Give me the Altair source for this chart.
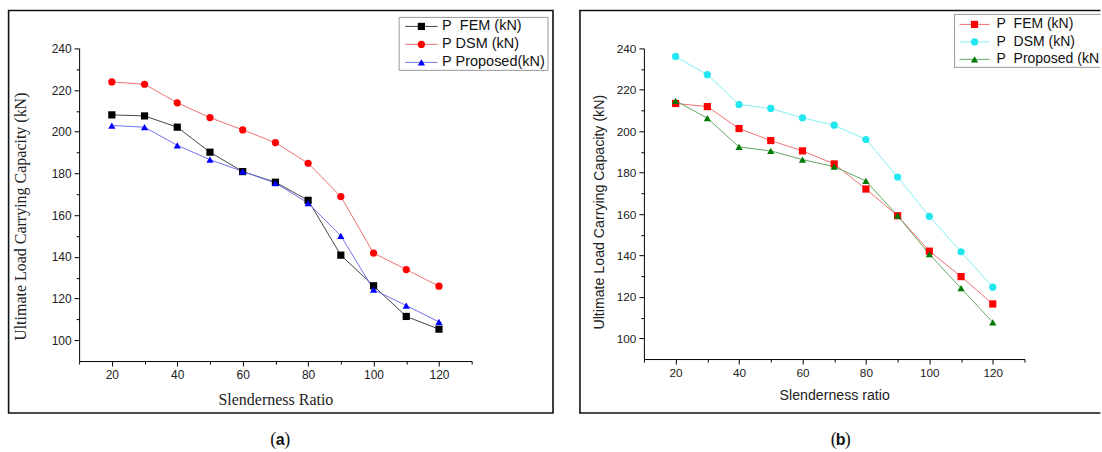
import altair as alt
import pandas as pd

# ---------------- data ----------------
slenderness = [20, 30, 40, 50, 60, 70, 80, 90, 100, 110, 120]

a_fem = [208.1, 207.6, 202.2, 190.2, 180.9, 175.8, 167.1, 140.8, 126.1, 111.4, 105.3]
a_dsm = [223.9, 222.8, 213.9, 206.8, 200.9, 194.8, 184.9, 168.9, 141.8, 133.9, 125.9]
a_prop = [203.0, 202.2, 193.5, 186.6, 181.0, 175.4, 165.8, 150.1, 124.3, 116.6, 108.8]

b_fem = [213.4, 211.9, 201.3, 195.5, 190.5, 184.2, 172.1, 159.2, 142.1, 129.8, 116.6]
b_dsm = [236.1, 227.3, 212.9, 211.0, 206.5, 202.9, 196.0, 177.9, 158.9, 141.8, 124.7]
b_prop = [214.7, 206.3, 192.4, 190.5, 186.3, 182.9, 176.0, 159.2, 140.6, 124.2, 107.7]

a_names = ["P\u00a0 FEM (kN)", "P DSM (kN)", "P Proposed(kN)"]
b_names = ["P\u00a0 FEM (kN)", "P\u00a0 DSM (kN)", "P\u00a0 Proposed (kN)"]

a_marker_colors = ["#000000", "#ff0000", "#0000ff"]
a_line_colors = ["#444444", "#f07070", "#7070f0"]
b_marker_colors = ["#ff0000", "#22e6f0", "#007a00"]
b_line_colors = ["#f07070", "#80f0f6", "#60a860"]
shapes = ["square", "circle", "triangle-up"]

x_major = [20, 40, 60, 80, 100, 120]
x_minor = [10, 30, 50, 70, 90, 110, 130]
y_major = [100, 120, 140, 160, 180, 200, 220, 240]
y_minor = [110, 130, 150, 170, 190, 210, 230]

SANS = "Liberation Sans"
SERIF = "Liberation Serif"


def long_df(names, series):
    rows = []
    for name, vals in zip(names, series):
        for xv, yv in zip(slenderness, vals):
            rows.append({"x": xv, "v": yv, "series": name})
    return pd.DataFrame(rows)


def hrule(x1, x2, y, color, width):
    return alt.Chart(pd.DataFrame({"k": [0]})).mark_rule(
        stroke=color, strokeWidth=width).encode(
        x=alt.value(x1), x2=alt.value(x2), y=alt.value(y))


def vrule(x, y1, y2, color, width):
    return alt.Chart(pd.DataFrame({"k": [0]})).mark_rule(
        stroke=color, strokeWidth=width).encode(
        x=alt.value(x), y=alt.value(y1), y2=alt.value(y2))


def box(x1, x2, y1, y2, color, width, fill, open_right):
    one = pd.DataFrame({"k": [0]})
    if not open_right:
        return [alt.Chart(one).mark_rect(
            fill=fill, stroke=color, strokeWidth=width).encode(
            x=alt.value(x1), x2=alt.value(x2), y=alt.value(y1), y2=alt.value(y2))]
    parts = []
    parts.append(alt.Chart(one).mark_rect(fill=fill, strokeWidth=0).encode(
        x=alt.value(x1), x2=alt.value(x2), y=alt.value(y1), y2=alt.value(y2)))
    parts.append(hrule(x1 - width / 2, x2, y1, color, width))
    parts.append(hrule(x1 - width / 2, x2, y2, color, width))
    parts.append(vrule(x1, y1, y2, color, width))
    return parts


def panel(names, series, mcolors, lcolors, W, H, title_font, title_size, label_size,
          x_title, ytitle_x, ytitle_y, xtitle_y, frame, frame_open, leg_box,
          leg_rows, leg_x, leg_size, leg_limit, caption):
    df = long_df(names, series)
    one = pd.DataFrame({"k": [0]})
    xs = alt.Scale(domain=[10, 130], nice=False, zero=False)
    ys = alt.Scale(domain=[90, 240], nice=False, zero=False)
    stroke = alt.Stroke("series:N", scale=alt.Scale(domain=names, range=lcolors), legend=None)
    fill = alt.Fill("series:N", scale=alt.Scale(domain=names, range=mcolors), legend=None)
    shape = alt.Shape("series:N", scale=alt.Scale(domain=names, range=shapes), legend=None)

    lines = alt.Chart(df).mark_line(strokeWidth=1).encode(
        x=alt.X("x:Q", scale=xs, axis=alt.Axis(
            values=x_major, tickSize=5, labelFont=SANS, labelFontSize=label_size,
            labelColor="#222", labelPadding=3, title=x_title, titleFont=title_font,
            titleFontSize=title_size, titleFontWeight="normal", titleColor="#222",
            titleX=W / 2, titleY=xtitle_y, titleBaseline="middle", titleAlign="center")),
        y=alt.Y("v:Q", scale=ys, axis=alt.Axis(
            values=y_major, tickSize=5, labelFont=SANS, labelFontSize=label_size,
            labelColor="#222", labelPadding=3, title="Ultimate Load Carrying Capacity (kN)",
            titleFont=title_font, titleFontSize=title_size, titleFontWeight="normal",
            titleColor="#222", titleX=ytitle_x, titleY=ytitle_y, titleAngle=270,
            titleBaseline="middle", titleAlign="center")),
        stroke=stroke,
        order="x:Q",
    )
    points = alt.Chart(df).mark_point(filled=True, size=52, opacity=1).encode(
        x=alt.X("x:Q", scale=xs, axis=alt.Axis(
            values=x_minor, tickSize=3, labels=False, domain=False, title=None, orient="bottom")),
        y=alt.Y("v:Q", scale=ys, axis=alt.Axis(
            values=y_minor, tickSize=3, labels=False, domain=False, title=None, orient="left")),
        fill=fill,
        shape=shape,
    )
    data_group = alt.layer(lines, points).resolve_scale(x="independent", y="independent")

    frame_parts = []
    if frame_open:
        frame_parts += [hrule(frame[0] - 0.8, frame[1], frame[2], "#111111", 1.6),
                        hrule(frame[0] - 0.8, frame[1], frame[3], "#111111", 1.6),
                        vrule(frame[0], frame[2], frame[3], "#111111", 1.6)]
    else:
        frame_parts.append(alt.Chart(one).mark_rect(
            fillOpacity=0, stroke="#111111", strokeWidth=1.6).encode(
            x=alt.value(frame[0]), x2=alt.value(frame[1]),
            y=alt.value(frame[2]), y2=alt.value(frame[3])))

    ly = alt.Y("series:N", scale=alt.Scale(type="point", domain=names,
                                           range=[leg_rows[0], leg_rows[1]], padding=0),
               axis=None)
    box_parts = box(leg_box[0], leg_box[1], leg_box[2], leg_box[3], "#9a9a9a", 1,
                    "white", frame_open)
    leg_df = pd.DataFrame({"series": names})
    leg_lines = alt.Chart(leg_df).mark_rule(strokeWidth=1).encode(
        x=alt.value(leg_x[0]), x2=alt.value(leg_x[1]), y=ly, stroke=stroke)
    leg_pts = alt.Chart(leg_df).mark_point(filled=True, size=52, opacity=1).encode(
        x=alt.value((leg_x[0] + leg_x[1]) / 2), y=ly, fill=fill, shape=shape)
    leg_txt = alt.Chart(leg_df).mark_text(
        align="left", baseline="middle", font=SANS, fontSize=leg_size, color="#111",
        limit=leg_limit, ellipsis="\u200b").encode(
        x=alt.value(leg_x[2]), y=ly, text="series:N")
    legend_group = alt.layer(*box_parts, leg_lines, leg_pts, leg_txt)

    cx, cy, letter = caption
    cap_l = alt.Chart(one).mark_text(text="(", font=SERIF, fontSize=18, align="right",
                                     baseline="middle", color="#111").encode(
        x=alt.value(cx - 4), y=alt.value(cy))
    cap_m = alt.Chart(one).mark_text(text=letter, font=SANS, fontSize=16, fontWeight="bold",
                                     align="center", baseline="middle", color="#111").encode(
        x=alt.value(cx), y=alt.value(cy))
    cap_r = alt.Chart(one).mark_text(text=")", font=SERIF, fontSize=18, align="left",
                                     baseline="middle", color="#111").encode(
        x=alt.value(cx + 4), y=alt.value(cy))

    return alt.layer(*frame_parts, data_group, legend_group, cap_l, cap_m, cap_r).resolve_scale(
        x="independent", y="independent").properties(width=W, height=H)


# left panel: plot area x 78.6..471.6, y 48..361
left = panel(a_names, [a_fem, a_dsm, a_prop], a_marker_colors, a_line_colors,
             W=393, H=313, title_font=SERIF, title_size=16, label_size=12,
             x_title="Slenderness Ratio",
             ytitle_x=-58.6, ytitle_y=168, xtitle_y=39,
             frame=(-70.6, 474.4, -38, 365), frame_open=False,
             leg_box=(320.4, 469.4, -31, 22), leg_rows=(-22, 14),
             leg_x=(326.4, 358.9, 363.4), leg_size=14.5, leg_limit=0,
             caption=(201.4, 392, "a"))

# right panel: plot area x 644..1025, y 48..359
right = panel(b_names, [b_fem, b_dsm, b_prop], b_marker_colors, b_line_colors,
              W=381, H=311, title_font=SANS, title_size=14.2, label_size=11.8,
              x_title="Slenderness ratio",
              ytitle_x=-44.2, ytitle_y=163.5, xtitle_y=36,
              frame=(-64, 457, -38, 365), frame_open=True,
              leg_box=(311, 457, -34, 19), leg_rows=(-24, 11),
              leg_x=(316, 346, 353), leg_size=14, leg_limit=104,
              caption=(197, 392, "b"))

chart = alt.hconcat(left, right, spacing=172.4, bounds="flush").resolve_scale(
    fill="independent", stroke="independent", shape="independent"
).properties(
    padding={"left": 7.2, "top": 9.2, "right": 0, "bottom": 0}
).configure_view(stroke=None).configure_axis(
    grid=False, domainColor="#000", domainWidth=1, tickColor="#000", tickWidth=1
)

chart.save("out.html", embed_options={"renderer": "svg", "actions": False})
